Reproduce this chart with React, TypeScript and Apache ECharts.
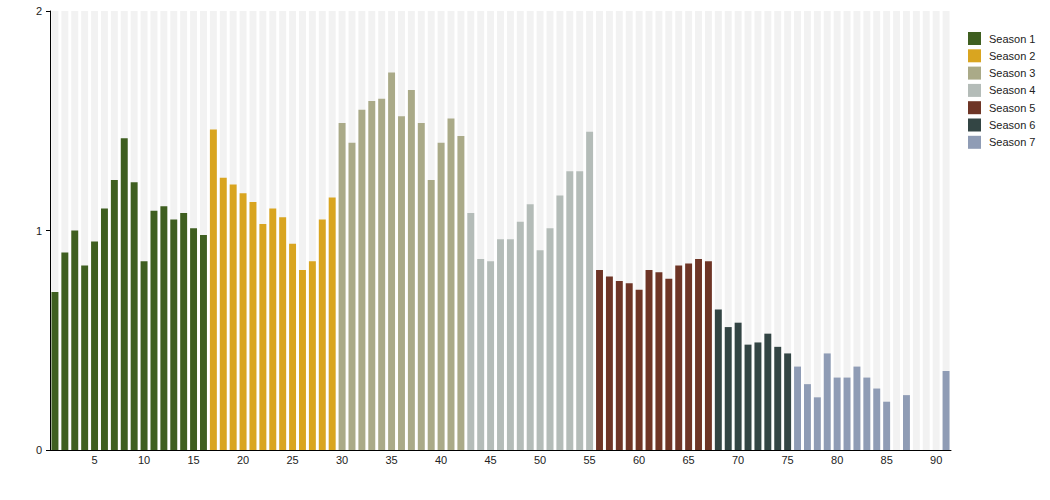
import React, { useEffect, useRef } from "react";
import * as echarts from "echarts";

const episodes: string[] = Array.from({ length: 91 }, (_, i) => String(i + 1));

const seasonNames = ["Season 1", "Season 2", "Season 3", "Season 4", "Season 5", "Season 6", "Season 7"];
const seasonColors = ["#3f5f20", "#d9a520", "#aaaa88", "#b4bcb8", "#6e3526", "#334544", "#8f9cb5"];

// first episode index (1-based) of each season
const seasonStarts = [1, 17, 30, 43, 56, 68, 76];

const season1 = [0.72, 0.9, 1.0, 0.84, 0.95, 1.1, 1.23, 1.42, 1.22, 0.86, 1.09, 1.11, 1.05, 1.08, 1.01, 0.98];
const season2 = [1.46, 1.24, 1.21, 1.17, 1.13, 1.03, 1.1, 1.06, 0.94, 0.82, 0.86, 1.05, 1.15];
const season3 = [1.49, 1.4, 1.55, 1.59, 1.6, 1.72, 1.52, 1.64, 1.49, 1.23, 1.4, 1.51, 1.43];
const season4 = [1.08, 0.87, 0.86, 0.96, 0.96, 1.04, 1.12, 0.91, 1.01, 1.16, 1.27, 1.27, 1.45];
const season5 = [0.82, 0.79, 0.77, 0.76, 0.73, 0.82, 0.81, 0.78, 0.84, 0.85, 0.87, 0.86];
const season6 = [0.64, 0.56, 0.58, 0.48, 0.49, 0.53, 0.47, 0.44];
const season7 = [0.38, 0.3, 0.24, 0.44, 0.33, 0.33, 0.38, 0.33, 0.28, 0.22, null, 0.25, null, null, null, 0.36];

const seasonValues = [season1, season2, season3, season4, season5, season6, season7];
const backgroundValues: number[] = episodes.map(() => 2);

export default function App() {
  const ref = useRef<HTMLDivElement>(null);
  useEffect(() => {
    if (!ref.current) return;
    const chart = echarts.init(ref.current, null, { renderer: "svg" });
    const seasonSeries = seasonValues.map((vals, s) => {
      const data: (number | null)[] = episodes.map(() => null);
      vals.forEach((v, i) => {
        data[seasonStarts[s] - 1 + i] = v;
      });
      return {
        name: seasonNames[s],
        type: "bar",
        stack: "seasons",
        data,
        itemStyle: { color: seasonColors[s] },
        barGap: "-100%",
        barCategoryGap: "30%",
        z: 3,
      };
    });
    chart.setOption({
      animation: false,
      textStyle: { fontFamily: "Liberation Sans, Arial, sans-serif" },
      grid: { left: 50, right: 99, top: 11, bottom: 50, containLabel: false },
      legend: {
        orient: "vertical",
        left: 963,
        top: 27,
        itemWidth: 13,
        itemHeight: 13,
        itemGap: 4.3,
        icon: "rect",
        data: seasonNames,
        textStyle: { fontSize: 11, color: "#222", fontFamily: "Liberation Sans, Arial, sans-serif", padding: [0, 0, 0, 3] },
      },
      xAxis: {
        type: "category",
        data: episodes,
        axisLine: { lineStyle: { color: "#000", width: 1 } },
        axisTick: { show: false },
        axisLabel: {
          interval: (i: number) => (i + 1) % 5 === 0,
          color: "#222",
          fontSize: 11,
          margin: 4,
        },
        splitLine: { show: false },
      },
      yAxis: {
        type: "value",
        min: 0,
        max: 2,
        interval: 1,
        axisLine: { show: true, lineStyle: { color: "#000", width: 1 } },
        axisTick: { show: true, length: 4, lineStyle: { color: "#000" } },
        axisLabel: { color: "#222", fontSize: 11, margin: 8 },
        splitLine: { show: false },
      },
      series: [
        {
          name: "bg",
          type: "bar",
          data: backgroundValues,
          itemStyle: { color: "#f2f2f2" },
          barGap: "-100%",
          barCategoryGap: "30%",
          silent: true,
          z: 1,
        },
        ...seasonSeries,
      ],
    });
    return () => chart.dispose();
  }, []);
  return <div ref={ref} style={{ width: 1050, height: 500, position: "absolute", left: 0, top: 0 }} />;
}
